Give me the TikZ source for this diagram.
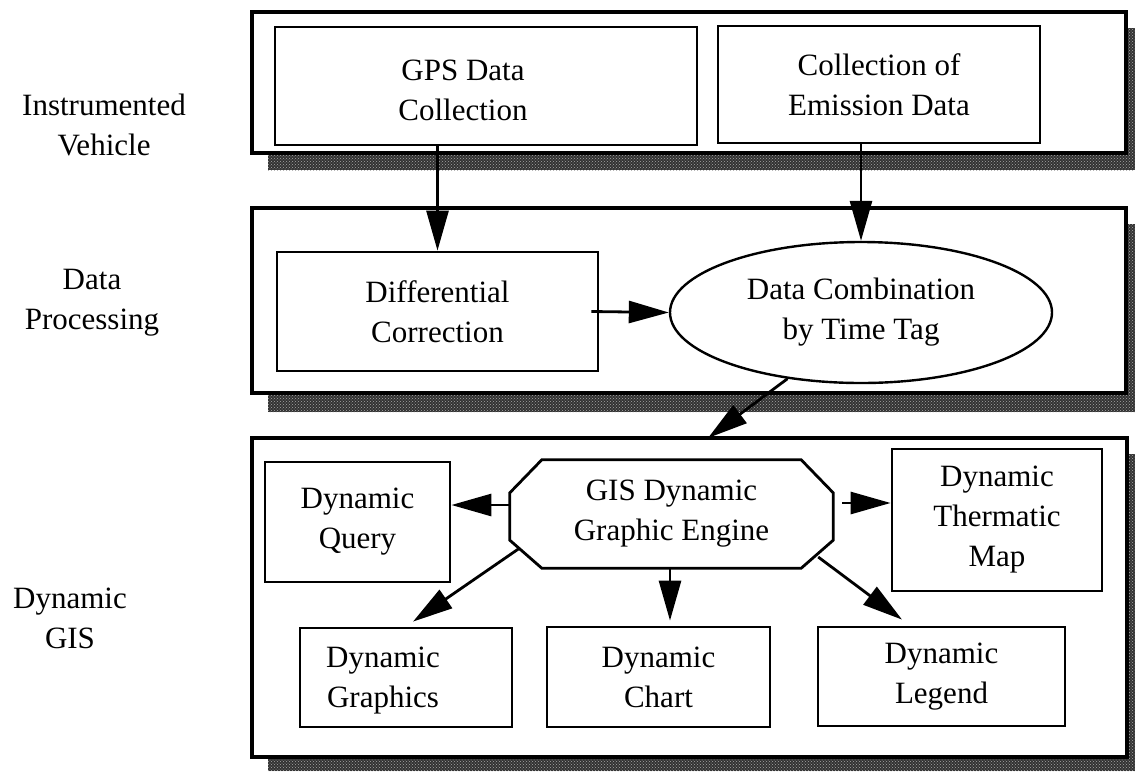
\documentclass[tikz,border=0pt]{standalone}
\usepackage{fontspec}
\setmainfont{Liberation Serif}
\usetikzlibrary{arrows.meta,shapes.geometric,patterns}
\tikzset{
  shadowfill/.style={fill=black!80},
  shadowdots/.style={pattern=crosshatch dots, pattern color=black!35},
  panel/.style={draw=black, line width=3.2pt, fill=white},
  box/.style={draw=black, line width=2.8pt, fill=white, rectangle, inner sep=0pt, align=center, font=\fontsize{31}{40}\selectfont},
  txt/.style={inner sep=0pt, align=center, font=\fontsize{31}{40}\selectfont},
  oval/.style={draw=black, line width=2.4pt, ellipse, inner sep=0pt, align=center, font=\fontsize{31}{40}\selectfont},
  arr/.style={line width=2.8pt, -{Triangle[length=40pt,width=22pt]}},
}
\begin{document}
\begin{tikzpicture}[x=1pt,y=-1pt]
\useasboundingbox (0,0) rectangle (1135,772);
% shadows
\foreach \a/\b/\c/\d in {268/28/1135/170, 268/224/1135/412, 268/454/1135/771}{
  \fill[shadowfill] (\a,\b) rectangle (\c,\d);
  \fill[shadowdots] (\a,\b) rectangle (\c,\d);
}
% panels
\draw[panel] (252,12) rectangle (1126,153);
\draw[panel] (252,208) rectangle (1126,393);
\draw[panel] (252,438) rectangle (1127,757);
% side labels
\node[txt] (lab1) at (104,125) {Instrumented\\Vehicle};
\node[txt] (lab2) at (92,303) {Data\\Processing};
\node[txt] (lab3) at (70,618) {Dynamic\\GIS};
% row 1
\node[box, minimum width=422, minimum height=118] (gps) at (486,86) {};
\node[txt] (gpsT) at (463,90) {GPS Data\\Collection};
\node[box, minimum width=322, minimum height=117] (emis) at (879,84.5) {Collection of\\Emission Data};
% row 2
\node[box, minimum width=321, minimum height=119] (diff) at (437.5,311.5) {Differential\\Correction};
\node[oval, minimum width=382, minimum height=141] (comb) at (861,312.5) {Data Combination\\by Time Tag};
% row 3
\node[txt, minimum width=323, minimum height=108] (eng) at (671.5,514) {GIS Dynamic\\Graphic Engine};
\draw[line width=2.8pt, line join=miter]
  ([xshift=32pt]eng.north west) -- ([xshift=-32pt]eng.north east)
  -- ([yshift=-33pt]eng.north east) -- ([yshift=28pt]eng.south east)
  -- ([xshift=-32pt]eng.south east) -- ([xshift=32pt]eng.south west)
  -- ([yshift=28pt]eng.south west) -- ([yshift=-33pt]eng.north west) -- cycle;
\node[box, minimum width=185, minimum height=120] (query) at (357.5,522) {Dynamic\\Query};
\node[box, minimum width=210, minimum height=142] (them) at (997,520) {Dynamic\\Thermatic\\Map};
\node[box, minimum width=212, minimum height=99] (graph) at (406,677.5) {};
\node[txt] (graphT) at (383,681) {Dynamic\\Graphics};
\node[box, minimum width=223, minimum height=100] (chart) at (658.5,677) {Dynamic\\Chart};
\node[box, minimum width=247, minimum height=99] (legend) at (941.5,676.5) {Dynamic\\Legend};
\coordinate (p3in) at (708,438);
% connectors
\draw[arr] (gps.south -| diff.north) -- (diff.north);
\draw[arr] (emis.south -| comb.north) -- (comb.north);
\draw[arr] ([xshift=-8pt]diff.east) -- (comb.west);
\draw[arr] (comb.222) -- (p3in);
\draw[arr] ([yshift=9pt]eng.west) -- ([yshift=17pt]query.east);
\draw[arr] ([xshift=9pt,yshift=11pt]eng.east) -- ([yshift=17pt]them.west);
\draw[arr] ([xshift=10pt,yshift=-34pt]eng.west) -- ([xshift=7pt,yshift=5pt]graph.north);
\draw[arr] (eng.south -| 670,0) -- ([yshift=5pt]chart.north -| 670,0);
\draw[arr] ([xshift=-15pt,yshift=-43pt]eng.east) -- ([xshift=-39.5pt,yshift=6pt]legend.north);
\end{tikzpicture}
\end{document}
